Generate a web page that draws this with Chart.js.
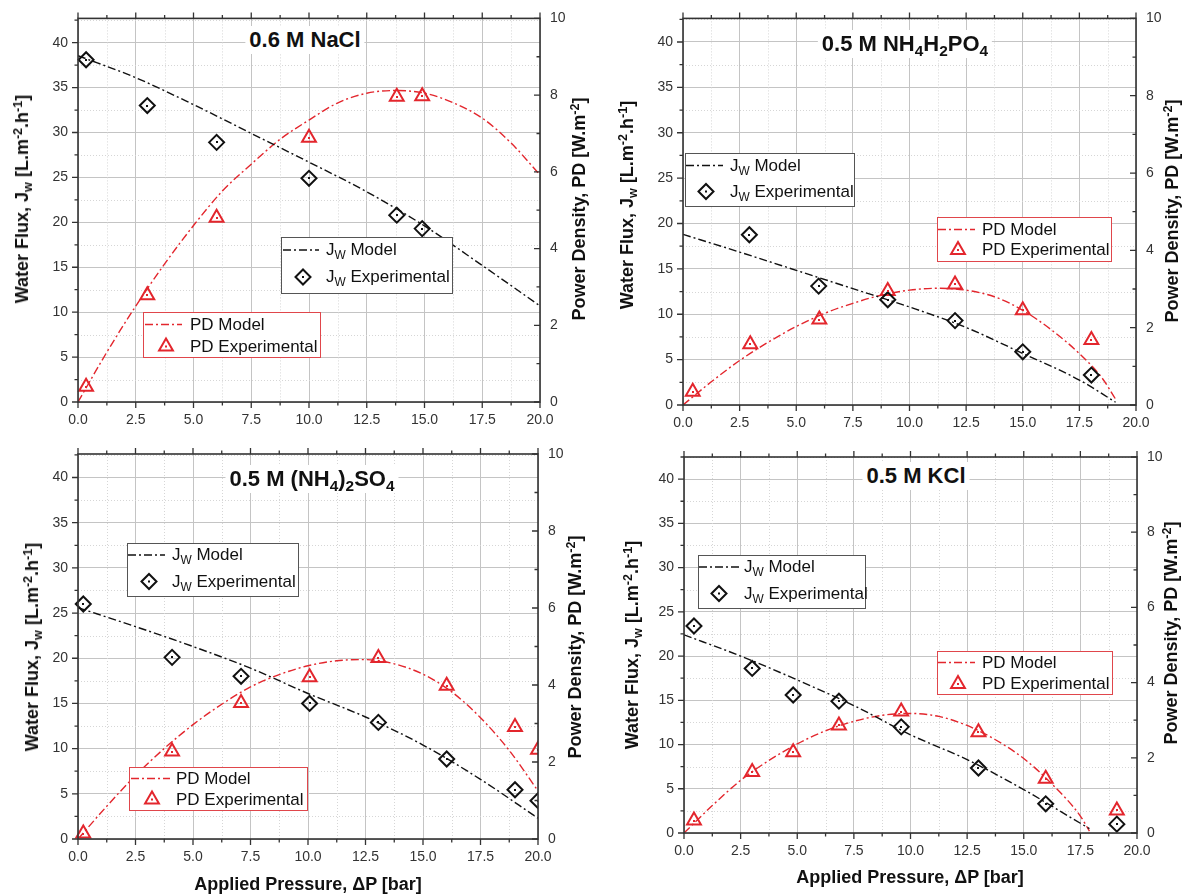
<!DOCTYPE html>
<html><head><meta charset="utf-8">
<script src="https://cdn.jsdelivr.net/npm/chart.js@4.4.1/dist/chart.umd.min.js"></script>
<style>
html,body{margin:0;padding:0;background:#fff;}
#wrap{position:relative;width:1184px;height:894px;overflow:hidden;font-family:"Liberation Sans",Arial,Helvetica,sans-serif;color:#111;}
canvas{position:absolute;left:0;top:0;}
.ttl{position:absolute;transform:translate(-50%,-50%);background:#fff;font-weight:bold;font-size:22px;padding:2px 4px;white-space:nowrap;line-height:24px;}
.ax{position:absolute;transform:translate(-50%,-50%) rotate(-90deg);font-weight:bold;font-size:18px;white-space:nowrap;line-height:20px;}
.xt{position:absolute;transform:translate(-50%,-50%);font-weight:bold;font-size:18px;white-space:nowrap;line-height:20px;}
.leg{position:absolute;background:#fff;box-sizing:border-box;}
.lt{position:absolute;font-size:17px;white-space:nowrap;transform:translateY(-50%);line-height:20px;}
sub{font-size:0.7em;vertical-align:-0.35em;line-height:0;}
sup{font-size:0.7em;vertical-align:0.5em;line-height:0;}
svg{position:absolute;left:0;top:0;pointer-events:none;}
</style>
</head><body>
<div id="wrap">
<canvas id="c1" width="1184" height="894"></canvas>
<canvas id="c2" width="1184" height="894"></canvas>
<canvas id="c3" width="1184" height="894"></canvas>
<canvas id="c4" width="1184" height="894"></canvas>
</div>
<script>
// ---------- tick values ----------
const xMajorTicks = [0, 2.5, 5, 7.5, 10, 12.5, 15, 17.5, 20];
const xMinorTicks = [1.25, 3.75, 6.25, 8.75, 11.25, 13.75, 16.25, 18.75];
const yMajorTicks = [0, 5, 10, 15, 20, 25, 30, 35, 40];
const yMinorTicks = [2.5, 7.5, 12.5, 17.5, 22.5, 27.5, 32.5, 37.5, 42.5];
const y2MajorTicks = [0, 2, 4, 6, 8, 10];
const y2MinorTicks = [1, 3, 5, 7, 9];

// ---------- Panel 1: 0.6 M NaCl ----------
const naclExpP  = [0.35, 3.0, 6.0, 10.0, 13.8, 14.9];
const naclExpJ  = [38.1, 33.0, 28.9, 24.9, 20.8, 19.3];
const naclExpPD = [0.40, 2.78, 4.80, 6.89, 7.96, 7.97];
const naclModJP = [0, 2.5, 5, 7.5, 10, 12.5, 15, 17.5, 20];
const naclModJ  = [38.55, 36.1, 33.1, 29.9, 26.7, 23.4, 19.6, 15.2, 10.7];
const naclModPDP = [0, 1.25, 2.5, 3.75, 5, 6.25, 7.5, 8.75, 10, 11.25, 12.5, 13.75, 15, 16.25, 17.5, 18.75, 20];
const naclModPD  = [0, 1.3, 2.5, 3.6, 4.6, 5.5, 6.2, 6.85, 7.35, 7.8, 8.05, 8.12, 8.05, 7.8, 7.4, 6.75, 5.92];

// ---------- Panel 2: 0.5 M NH4H2PO4 ----------
const nhpExpJP  = [2.93, 5.99, 9.04, 12.01, 15.0, 18.03];
const nhpExpJ   = [18.76, 13.1, 11.6, 9.3, 5.86, 3.3];
const nhpExpPDP = [0.43, 2.97, 6.02, 9.04, 12.01, 15.0, 18.03];
const nhpExpPD  = [0.34, 1.57, 2.21, 2.95, 3.12, 2.45, 1.68];
const nhpModJP  = [0, 2.5, 5, 7.5, 10, 12.5, 15, 17.5, 19.1];
const nhpModJ   = [18.8, 16.85, 14.84, 12.82, 10.8, 8.54, 5.68, 2.75, 0.3];
const nhpModPDP = [0, 1.25, 2.5, 3.75, 5, 6.25, 7.5, 8.75, 10, 11.25, 12.5, 13.75, 15, 16.25, 17.5, 18.5, 19.1];
const nhpModPD  = [0, 0.6, 1.15, 1.62, 2.03, 2.37, 2.63, 2.84, 2.97, 3.02, 2.97, 2.8, 2.45, 1.95, 1.33, 0.7, 0.15];

// ---------- Panel 3: 0.5 M (NH4)2SO4 ----------
const nsoExpP  = [0.23, 4.09, 7.09, 10.07, 13.06, 16.03, 19.0, 20.0];
const nsoExpJ  = [26.0, 20.1, 18.0, 15.0, 12.9, 8.85, 5.45, 4.24];
const nsoExpPD = [0.14, 2.27, 3.53, 4.2, 4.7, 3.98, 2.91, 2.32];
const nsoModJP = [0, 2.5, 5, 7.5, 10, 12.5, 15, 17.5, 20];
const nsoModJ  = [25.6, 23.5, 21.3, 18.9, 16.1, 13.5, 10.4, 6.6, 2.3];
const nsoModPDP = [0, 1.25, 2.5, 3.75, 5, 6.25, 7.5, 8.75, 10, 11.25, 12.5, 13.75, 15, 16.25, 17.5, 18.75, 20];
const nsoModPD  = [0, 0.85, 1.65, 2.35, 2.97, 3.5, 3.95, 4.27, 4.5, 4.63, 4.66, 4.55, 4.28, 3.82, 3.15, 2.3, 1.25];

// ---------- Panel 4: 0.5 M KCl ----------
const kclExpP  = [0.44, 3.01, 4.82, 6.84, 9.59, 13.0, 15.97, 19.11];
const kclExpJ  = [23.4, 18.6, 15.6, 14.9, 12.0, 7.35, 3.3, 1.0];
const kclExpPD = [0.33, 1.62, 2.15, 2.86, 3.23, 2.68, 1.44, 0.6];
const kclModJP = [0, 2.5, 5, 7.5, 10, 12.5, 15, 17.5, 17.9];
const kclModJ  = [22.4, 20.0, 17.3, 14.4, 11.1, 8.3, 4.9, 1.1, 0.5];
const kclModPDP = [0, 1.25, 2.5, 3.75, 5, 6.25, 7.5, 8.75, 10, 11.25, 12.5, 13.75, 15, 16.25, 17.5, 17.9];
const kclModPD  = [0, 0.73, 1.4, 1.93, 2.37, 2.72, 2.97, 3.13, 3.18, 3.1, 2.86, 2.48, 1.98, 1.3, 0.45, 0.05];

// ---------- text ----------
const titles = ['0.6 M NaCl', '0.5 M NH<sub>4</sub>H<sub>2</sub>PO<sub>4</sub>', '0.5 M (NH<sub>4</sub>)<sub>2</sub>SO<sub>4</sub>', '0.5 M KCl'];
const leftTitle = 'Water Flux, J<sub>w</sub> [L.m<sup>-2</sup>.h<sup>-1</sup>]';
const rightTitle = 'Power Density, PD [W.m<sup>-2</sup>]';
const xTitle = 'Applied Pressure, \u0394P [bar]';
const legJ = ['J<sub>W</sub> Model', 'J<sub>W</sub> Experimental'];
const legPD = ['PD Model', 'PD Experimental'];

Chart.defaults.font.family = '"Liberation Sans", Arial, Helvetica, sans-serif';
Chart.defaults.font.size = 14;
Chart.defaults.color = '#333';

const RED = '#e3262d';
const BLK = '#111111';
const DASH = [8, 3, 2, 3];
const GRID = '#c4c4c4';
const MINOR = '#d6d6d6';
const DIAM_R = 7.5;
const TRI_R = 8;

const decor = {
  id: 'decor',
  beforeDatasetsDraw(chart) {
    const {ctx, chartArea: a, scales} = chart;
    ctx.save();
    ctx.strokeStyle = MINOR; ctx.lineWidth = 1; ctx.setLineDash([1, 2]);
    ctx.beginPath();
    xMinorTicks.forEach(v => { const p = Math.round(scales.x.getPixelForValue(v)) + 0.5; ctx.moveTo(p, a.top); ctx.lineTo(p, a.bottom); });
    yMinorTicks.forEach(v => { const p = Math.round(scales.y.getPixelForValue(v)) + 0.5; if (p > a.top) { ctx.moveTo(a.left, p); ctx.lineTo(a.right, p); } });
    ctx.stroke();
    ctx.restore();
  },
  afterDatasetsDraw(chart) {
    const {ctx, chartArea: a} = chart;
    ctx.save();
    ctx.beginPath(); ctx.rect(a.left - 10, a.top - 10, a.right - a.left + 10, a.bottom - a.top + 20); ctx.clip();
    chart.data.datasets.forEach((ds, i) => {
      if (ds.showLine) return;
      ctx.fillStyle = ds.borderColor;
      chart.getDatasetMeta(i).data.forEach(el => { ctx.fillRect(Math.round(el.x) - 1, Math.round(el.y) - 1, 2, 2); });
    });
    ctx.restore();
  },
  afterDraw(chart) {
    const {ctx, chartArea: a, scales} = chart;
    ctx.save();
    ctx.strokeStyle = '#333'; ctx.lineWidth = 1.3;
    ctx.beginPath();
    const tx = (vals, len) => vals.forEach(v => { const p = scales.x.getPixelForValue(v);
      ctx.moveTo(p, a.bottom); ctx.lineTo(p, a.bottom + len); ctx.moveTo(p, a.top); ctx.lineTo(p, a.top - len); });
    tx(xMajorTicks, 6); tx(xMinorTicks, 3.5);
    const ty = (vals, len) => vals.forEach(v => { const p = scales.y.getPixelForValue(v); if (p < a.top) return;
      ctx.moveTo(a.left, p); ctx.lineTo(a.left - len, p); });
    ty(yMajorTicks, 6); ty(yMinorTicks, 3.5);
    const ty2 = (vals, len) => vals.forEach(v => { const p = scales.y2.getPixelForValue(v);
      ctx.moveTo(a.right, p); ctx.lineTo(a.right - len, p); });
    ty2(y2MajorTicks, 6); ty2(y2MinorTicks, 3.5);
    ctx.stroke();
    ctx.lineWidth = 1.6;
    ctx.strokeRect(a.left, a.top, a.right - a.left, a.bottom - a.top);
    ctx.restore();
  }
};

const pts = (xs, ys) => xs.map((x, i) => ({x: x, y: ys[i]}));

function makeChart(id, box, leftMax, d) {
  return new Chart(document.getElementById(id), {
    type: 'scatter',
    data: { datasets: [
      {label: 'J_W Model', data: pts(d.mjp, d.mj), yAxisID: 'y', showLine: true, borderColor: BLK, borderWidth: 1.4,
       borderDash: DASH, pointRadius: 0, cubicInterpolationMode: 'monotone', fill: false},
      {label: 'J_W Experimental', data: pts(d.ejp, d.ej), yAxisID: 'y', showLine: false, pointStyle: 'rectRot', pointRadius: DIAM_R,
       borderColor: BLK, borderWidth: 2, backgroundColor: 'rgba(0,0,0,0)', clip: {left: 10, top: 10, right: 0, bottom: 10}},
      {label: 'PD Model', data: pts(d.mpp, d.mp), yAxisID: 'y2', showLine: true, borderColor: RED, borderWidth: 1.4,
       borderDash: DASH, pointRadius: 0, cubicInterpolationMode: 'monotone', fill: false},
      {label: 'PD Experimental', data: pts(d.epp, d.ep), yAxisID: 'y2', showLine: false, pointStyle: 'triangle', pointRadius: TRI_R,
       borderColor: RED, borderWidth: 2, backgroundColor: 'rgba(0,0,0,0)', clip: {left: 10, top: 10, right: 0, bottom: 10}}
    ]},
    options: {
      responsive: false, animation: false, devicePixelRatio: 1, events: [],
      layout: {padding: {left: box.L - 60, right: 1184 - box.R - 40, top: box.T, bottom: 894 - box.B - 40}},
      plugins: {legend: {display: false}, tooltip: {enabled: false}},
      scales: {
        x: {type: 'linear', position: 'bottom', min: 0, max: 20, afterFit: s => { s.height = 40; },
            ticks: {stepSize: 2.5, callback: v => Number(v).toFixed(1), padding: 10, maxRotation: 0, autoSkip: false},
            grid: {color: GRID, lineWidth: 1, drawTicks: false}, border: {display: false}},
        y: {type: 'linear', position: 'left', min: 0, max: leftMax, afterFit: s => { s.width = 60; },
            ticks: {stepSize: 5, includeBounds: false, padding: 10},
            grid: {color: GRID, lineWidth: 1, drawTicks: false}, border: {display: false}},
        y2: {type: 'linear', position: 'right', min: 0, max: 10, afterFit: s => { s.width = 40; },
             ticks: {stepSize: 2, padding: 10},
             grid: {drawOnChartArea: false, drawTicks: false}, border: {display: false}}
      }
    },
    plugins: [decor]
  });
}

makeChart('c1', {L: 78, R: 540, T: 16, B: 402}, 42.7,
  {mjp: naclModJP, mj: naclModJ, ejp: naclExpP, ej: naclExpJ, mpp: naclModPDP, mp: naclModPD, epp: naclExpP, ep: naclExpPD});
makeChart('c2', {L: 683, R: 1136, T: 17, B: 405}, 42.6,
  {mjp: nhpModJP, mj: nhpModJ, ejp: nhpExpJP, ej: nhpExpJ, mpp: nhpModPDP, mp: nhpModPD, epp: nhpExpPDP, ep: nhpExpPD});
makeChart('c3', {L: 78, R: 538, T: 454, B: 839}, 42.6,
  {mjp: nsoModJP, mj: nsoModJ, ejp: nsoExpP, ej: nsoExpJ, mpp: nsoModPDP, mp: nsoModPD, epp: nsoExpP, ep: nsoExpPD});
makeChart('c4', {L: 684, R: 1137, T: 457, B: 833}, 42.5,
  {mjp: kclModJP, mj: kclModJ, ejp: kclExpP, ej: kclExpJ, mpp: kclModPDP, mp: kclModPD, epp: kclExpP, ep: kclExpPD});

// ---------- overlays: titles, axis titles, legends ----------
const wrap = document.getElementById('wrap');
function addDiv(cls, x, y, html, extra) {
  const d = document.createElement('div');
  d.className = cls; d.style.left = x + 'px'; d.style.top = y + 'px'; d.innerHTML = html;
  if (extra) Object.assign(d.style, extra);
  wrap.appendChild(d); return d;
}
const panelTitlePos = [[305, 39.5], [905, 44], [312, 479], [916, 476]];
titles.forEach((t, i) => addDiv('ttl', panelTitlePos[i][0], panelTitlePos[i][1], t));

const leftTitlePos = [[22, 199], [627, 205], [32, 647], [632, 645]];
const rightTitlePos = [[579, 209], [1172, 211], [575, 647], [1171, 633]];
leftTitlePos.forEach(p => addDiv('ax', p[0], p[1], leftTitle));
rightTitlePos.forEach(p => addDiv('ax', p[0], p[1], rightTitle));
addDiv('xt', 308, 884, xTitle);
addDiv('xt', 910, 877, xTitle);

// legend layout: box [l,t,r,b], rows y, line x0-x1, marker x, text x
const legends = [
  {box: [281, 237, 453, 294], rows: [250, 277], lx: [283, 319], mx: 303, tx: 326, red: false},
  {box: [143, 312, 321, 358], rows: [324.5, 346.5], lx: [145, 182], mx: 166, tx: 190, red: true},
  {box: [685, 153, 855, 207], rows: [165.5, 191.5], lx: [686, 723], mx: 706, tx: 730, red: false},
  {box: [937, 217, 1112, 262], rows: [229.5, 250], lx: [938, 975], mx: 958, tx: 982, red: true},
  {box: [127, 543, 299, 597], rows: [555, 581.5], lx: [128, 165], mx: 149, tx: 172, red: false},
  {box: [129, 767, 308, 811], rows: [778.5, 799.5], lx: [131, 170], mx: 152, tx: 176, red: true},
  {box: [698, 555, 866, 609], rows: [567, 593.5], lx: [699, 739], mx: 719, tx: 744, red: false},
  {box: [937, 651, 1113, 695], rows: [662.5, 684], lx: [938, 975], mx: 958, tx: 982, red: true}
];
let svg = '<svg width="1184" height="894" xmlns="http://www.w3.org/2000/svg">';
legends.forEach(L => {
  const [l, t, r, b] = L.box;
  addDiv('leg', l, t, '', {width: (r - l) + 'px', height: (b - t) + 'px', border: '1px solid ' + (L.red ? '#e0464b' : '#555')});
  const col = L.red ? RED : BLK;
  const y0 = L.rows[0], y1 = L.rows[1];
  svg += `<line x1="${L.lx[0]}" y1="${y0}" x2="${L.lx[1]}" y2="${y0}" stroke="${col}" stroke-width="1.5" stroke-dasharray="8 3 2 3"/>`;
  if (L.red) {
    const r7 = TRI_R;
    svg += `<polygon points="${L.mx},${y1 - r7} ${L.mx + r7 * 0.866},${y1 + r7 / 2} ${L.mx - r7 * 0.866},${y1 + r7 / 2}" fill="none" stroke="${col}" stroke-width="2"/>`;
  } else {
    const r = DIAM_R;
    svg += `<polygon points="${L.mx - r},${y1} ${L.mx},${y1 - r} ${L.mx + r},${y1} ${L.mx},${y1 + r}" fill="none" stroke="${col}" stroke-width="2"/>`;
  }
  svg += `<rect x="${L.mx - 1}" y="${y1 - 1}" width="2" height="2" fill="${col}"/>`;
});
svg += '</svg>';
const sv = document.createElement('div'); sv.innerHTML = svg; wrap.appendChild(sv.firstChild);
legends.forEach(L => {
  const txt = L.red ? legPD : legJ;
  addDiv('lt', L.tx, L.rows[0], txt[0]);
  addDiv('lt', L.tx, L.rows[1], txt[1]);
});
</script>
</body></html>
